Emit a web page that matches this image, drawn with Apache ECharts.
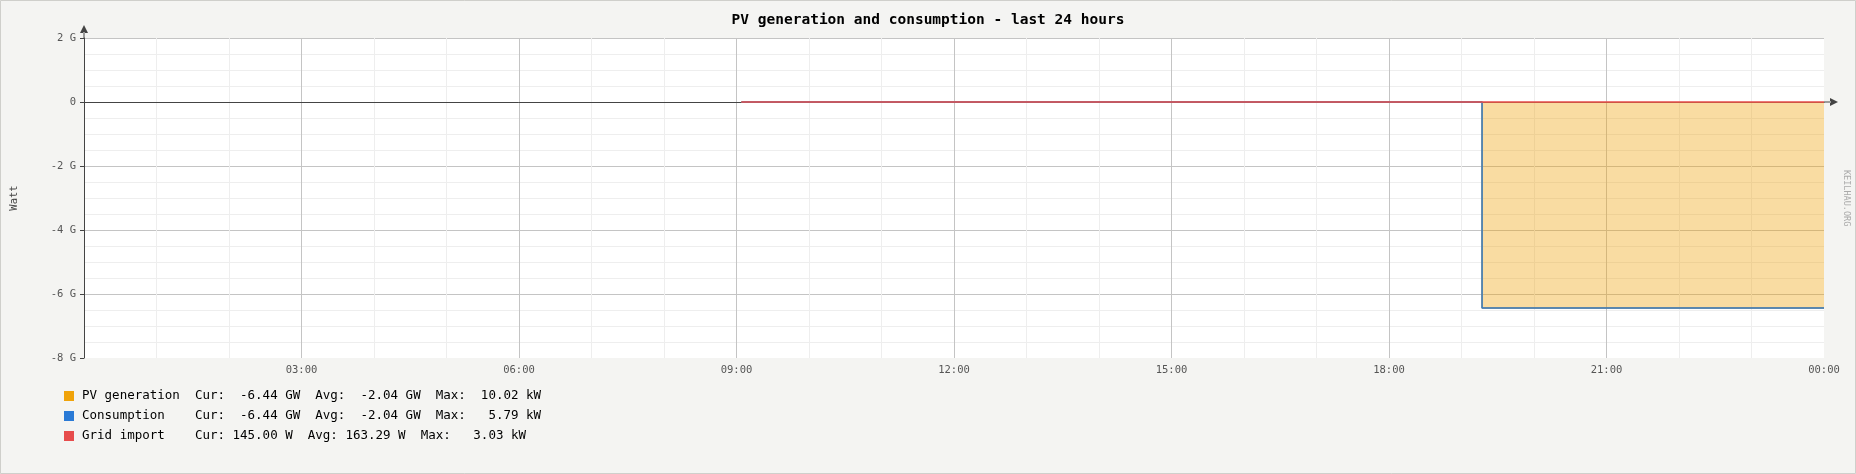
<!DOCTYPE html>
<html>
<head>
<meta charset="utf-8">
<title>PV generation and consumption - last 24 hours</title>
<script src="https://cdn.jsdelivr.net/npm/echarts@6/dist/echarts.min.js"></script>
<style>
  html, body { margin: 0; padding: 0; background: #f4f4f2; }
  #chart { width: 1856px; height: 474px; }
</style>
</head>
<body>
<div id="chart"></div>
<script>
// sample times (HH:mm, last 24 hours) and values in watt
var times       = ['09:04', '10:00', '11:00', '12:00', '13:00', '14:00', '15:00', '16:00', '17:00', '18:00', '19:00', '19:17', '19:17', '24:00'];
var pvValues    = [0, 1800, 5200, 8400, 10020, 9100, 7300, 4600, 1900, 300, 0, 0, -6.44e9, -6.44e9];
var consValues  = [520, 640, 880, 1300, 5790, 900, 760, 1100, 2400, 1600, 900, 700, -6.44e9, -6.44e9];
var gridValues  = [380, 160, 0, 0, 0, 0, 0, 0, 600, 1400, 3030, 600, 145, 145];

var seriesNames = ['PV generation', 'Consumption', 'Grid import'];
var legendTexts = [
  'PV generation  Cur:  -6.44 GW  Avg:  -2.04 GW  Max:  10.02 kW',
  'Consumption    Cur:  -6.44 GW  Avg:  -2.04 GW  Max:   5.79 kW',
  'Grid import    Cur: 145.00 W  Avg: 163.29 W  Max:   3.03 kW'
];
var colors = ['#f0a30a', '#2a7ad6', '#e74c4c'];

var mono = 'DejaVu Sans Mono';
// arrow head with a short stem, so the axis line runs on into the arrow
var arrowPath = 'path://M3.5,7 L4.5,7 L4.5,14 L3.5,14 Z M0,8 L8,8 L4,0 Z';

function toHours(t) {
  var p = t.split(':');
  return parseInt(p[0], 10) + parseInt(p[1], 10) / 60;
}
function pairs(vals) {
  return times.map(function (t, i) { return [toHours(t), vals[i]]; });
}

var chart = echarts.init(document.getElementById('chart'));

var option = {
  backgroundColor: '#f4f4f2',
  animation: false,
  color: colors,
  title: {
    text: 'PV generation and consumption - last 24 hours',
    left: 'center',
    top: 8,
    textStyle: { fontFamily: mono, fontSize: 14.5, fontWeight: 'bold', color: '#000' }
  },
  grid: {
    left: 84, right: 32, top: 38, bottom: 116,
    show: true, backgroundColor: '#fff', borderWidth: 0
  },
  legend: {
    orient: 'vertical',
    left: 64,
    top: 388.5,
    padding: 0,
    itemWidth: 10,
    itemHeight: 10,
    itemGap: 5,
    icon: 'rect',
    data: seriesNames,
    formatter: function (name) { return legendTexts[seriesNames.indexOf(name)]; },
    textStyle: { fontFamily: mono, fontSize: 12.5, lineHeight: 15, color: '#000', padding: [0, 0, 0, 3] }
  },
  xAxis: [{
    type: 'value',
    min: 0, max: 24, interval: 3,
    axisLine: { show: false, onZero: false },
    axisTick: { show: false },
    axisLabel: {
      showMinLabel: false, showMaxLabel: true,
      margin: 7,
      fontFamily: mono, fontSize: 10.5, color: '#555',
      formatter: function (v) {
        var h = v % 24;
        return (h < 10 ? '0' : '') + h + ':00';
      }
    },
    splitLine: { show: true, showMinLine: false, showMaxLine: false, lineStyle: { color: '#c4c4c4', width: 1 } },
    minorTick: { show: false, splitNumber: 3 },
    minorSplitLine: { show: true, lineStyle: { color: '#eeeeee', width: 1 } }
  }, {
    type: 'value',
    min: 0, max: 24,
    position: 'bottom',
    axisLine: {
      show: true, onZero: true,
      lineStyle: { color: '#444', width: 1 },
      symbol: ['none', arrowPath], symbolSize: [8, 14], symbolOffset: [0, 7]
    },
    axisTick: { show: false },
    axisLabel: { show: false },
    splitLine: { show: false }
  }],
  yAxis: {
    type: 'value',
    min: -8e9, max: 2e9, interval: 2e9,
    name: 'Watt',
    nameLocation: 'middle',
    nameRotate: 90,
    nameGap: 64,
    nameTextStyle: { fontFamily: mono, fontSize: 10.5, color: '#444' },
    axisLine: {
      show: true, onZero: false,
      lineStyle: { color: '#444', width: 1 },
      symbol: ['none', arrowPath], symbolSize: [8, 14], symbolOffset: [0, 6]
    },
    axisTick: { show: true, length: 4, lineStyle: { color: '#444' } },
    axisLabel: {
      margin: 8,
      fontFamily: mono, fontSize: 10.5, color: '#555',
      formatter: function (v) { return v === 0 ? '0' : (v / 1e9) + ' G'; }
    },
    splitLine: { show: true, showMinLine: false, lineStyle: { color: '#c4c4c4', width: 1 } },
    minorTick: { show: false, splitNumber: 4 },
    minorSplitLine: { show: true, lineStyle: { color: '#eeeeee', width: 1 } }
  },
  series: [{
    name: seriesNames[0],
    type: 'line',
    data: pairs(pvValues),
    showSymbol: false,
    lineStyle: { width: 1.5, color: colors[0] },
    areaStyle: { color: colors[0], opacity: 0.38 },
    z: 2
  }, {
    name: seriesNames[1],
    type: 'line',
    data: pairs(consValues),
    showSymbol: false,
    lineStyle: { width: 1.5, color: colors[1] },
    z: 3
  }, {
    name: seriesNames[2],
    type: 'line',
    data: pairs(gridValues),
    showSymbol: false,
    lineStyle: { width: 1.5, color: colors[2] },
    z: 4
  }],
  graphic: [{
    type: 'rect',
    shape: { x: 0.5, y: 0.5, width: 1855, height: 473 },
    style: { fill: 'none', stroke: '#cfcfcb', lineWidth: 1 },
    silent: true
  }, {
    type: 'text',
    x: 1846, y: 170,
    rotation: -Math.PI / 2,
    style: {
      text: 'KEILHAU.ORG',
      font: '8.5px "DejaVu Sans Mono"',
      fill: '#aaaaaa',
      textAlign: 'left',
      textVerticalAlign: 'middle'
    },
    silent: true
  }]
};

chart.setOption(option);
</script>
</body>
</html>
